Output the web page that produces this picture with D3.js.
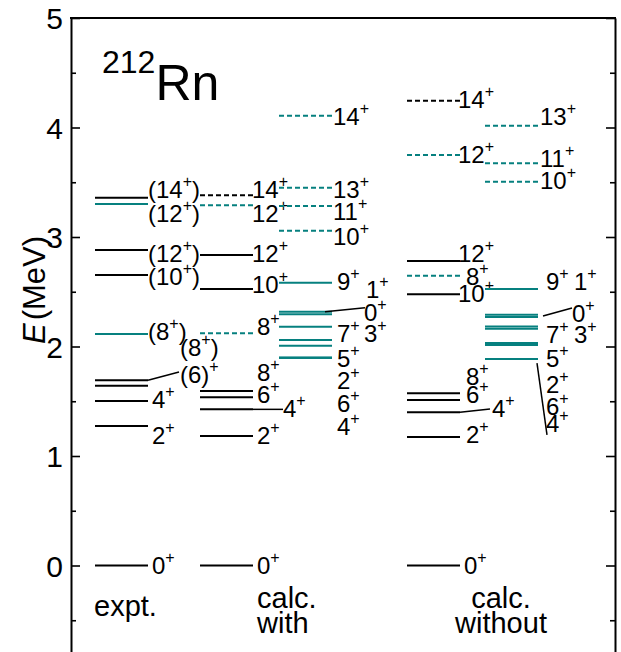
<!DOCTYPE html>
<html>
<head>
<meta charset="utf-8">
<script src="https://cdn.jsdelivr.net/npm/d3@7"></script>
<style>
  html, body { margin: 0; padding: 0; background: #fff; }
  svg { display: block; font-family: "Liberation Sans", Arial, Helvetica, sans-serif; }
</style>
</head>
<body>
<svg id="chart" width="621" height="652"></svg>
<script>
// ---- Level energies (MeV) and spins of 212Rn ----
// set "A": drawn black, set "B": drawn teal; firm=false: dashed level
const columnTitles = ["expt.", "calc. with", "calc. without"];

const exptLevels = [
  { E: 0.000, J: "0+",    set: "A", firm: true },
  { E: 1.274, J: "2+",    set: "A", firm: true },
  { E: 1.502, J: "4+",    set: "A", firm: true },
  { E: 1.642, J: "(6)+",  set: "A", firm: true },
  { E: 1.691, J: "(8+)",  set: "A", firm: true },
  { E: 2.114, J: "(8+)",  set: "B", firm: true },
  { E: 2.653, J: "(10+)", set: "A", firm: true },
  { E: 2.881, J: "(12+)", set: "A", firm: true },
  { E: 3.301, J: "(12+)", set: "B", firm: true },
  { E: 3.359, J: "(14+)", set: "A", firm: true }
];

const withLevelsA = [
  { E: 0.000, J: "0+",  set: "A", firm: true },
  { E: 1.183, J: "2+",  set: "A", firm: true },
  { E: 1.426, J: "4+",  set: "A", firm: true },
  { E: 1.536, J: "6+",  set: "A", firm: true },
  { E: 1.594, J: "8+",  set: "A", firm: true },
  { E: 2.120, J: "8+",  set: "B", firm: false },
  { E: 2.525, J: "10+", set: "A", firm: true },
  { E: 2.836, J: "12+", set: "A", firm: true },
  { E: 3.290, J: "12+", set: "B", firm: false },
  { E: 3.382, J: "14+", set: "A", firm: false }
];

const withLevelsB = [
  { E: 4.108, J: "14+", set: "B", firm: false },
  { E: 3.450, J: "13+", set: "B", firm: false },
  { E: 3.283, J: "11+", set: "B", firm: false },
  { E: 3.058, J: "10+", set: "B", firm: false },
  { E: 2.583, J: "9+",  set: "B", firm: true },
  { E: 2.318, J: "1+",  set: "B", firm: true },
  { E: 2.295, J: "0+",  set: "B", firm: true },
  { E: 2.181, J: "7+",  set: "B", firm: true },
  { E: 2.060, J: "3+",  set: "B", firm: true },
  { E: 2.007, J: "2+",  set: "B", firm: true },
  { E: 1.898, J: "5+",  set: "B", firm: true },
  { E: 1.898, J: "6+",  set: "B", firm: true },
  { E: 1.898, J: "4+",  set: "B", firm: true }
];

const withoutLevelsA = [
  { E: 0.000, J: "0+",  set: "A", firm: true },
  { E: 1.174, J: "2+",  set: "A", firm: true },
  { E: 1.399, J: "4+",  set: "A", firm: true },
  { E: 1.511, J: "6+",  set: "A", firm: true },
  { E: 1.573, J: "8+",  set: "A", firm: true },
  { E: 2.477, J: "10+", set: "A", firm: true },
  { E: 2.647, J: "8+",  set: "B", firm: false },
  { E: 2.781, J: "12+", set: "A", firm: true },
  { E: 3.749, J: "12+", set: "B", firm: false },
  { E: 4.245, J: "14+", set: "A", firm: false }
];

const withoutLevelsB = [
  { E: 4.016, J: "13+", set: "B", firm: false },
  { E: 3.673, J: "11+", set: "B", firm: false },
  { E: 3.505, J: "10+", set: "B", firm: false },
  { E: 2.525, J: "9+",  set: "B", firm: true },
  { E: 2.289, J: "1+",  set: "B", firm: true },
  { E: 2.269, J: "0+",  set: "B", firm: true },
  { E: 2.183, J: "7+",  set: "B", firm: true },
  { E: 2.162, J: "3+",  set: "B", firm: true },
  { E: 2.031, J: "2+",  set: "B", firm: true },
  { E: 2.014, J: "6+",  set: "B", firm: true },
  { E: 1.886, J: "5+",  set: "B", firm: true },
  { E: 1.886, J: "4+",  set: "B", firm: true }
];

const majorTicks = [0, 1, 2, 3, 4, 5];
const minorTicks = [-0.5, 0.5, 1.5, 2.5, 3.5, 4.5];

// ---- Label placement: [x offset past the level end (px), label height (MeV)] ----
const labelPlacement = {
  expt:     [[4, 0], [4, 1.183], [4, 1.511], [32, 1.740], [32, 1.986], [0, 2.132],
             [0, 2.635], [0, 2.845], [0, 3.210], [0, 3.429]],
  withA:    [[4, 0], [4, 1.183], [30, 1.429], [4, 1.557], [4, 1.758], [4, 2.174],
             [-1, 2.562], [-1, 2.845], [-1, 3.210], [-1, 3.429]],
  withB:    [[1, 4.096], [1, 3.429], [1, 3.228], [1, 3.000], [5, 2.589], [34, 2.516],
             [32, 2.306], [5, 2.114], [32, 2.114], [5, 1.685], [5, 1.886], [5, 1.475], [5, 1.265]],
  withoutA: [[4, 0], [6, 1.192], [32, 1.429], [6, 1.557], [6, 1.721], [-2, 2.479],
             [6, 2.635], [-2, 2.845], [-2, 3.749], [-2, 4.251]],
  withoutB: [[2, 4.096], [2, 3.712], [2, 3.511], [8, 2.589], [36, 2.589], [34, 2.297],
             [8, 2.105], [36, 2.105], [8, 1.648], [8, 1.447], [8, 1.886], [8, 1.292]]
};

// Leader lines from a level to its displaced label
const leaders = [
  { slot: "expt",     E0: 1.691, dx0: 0,  dx1: 31, E1: 1.767 },
  { slot: "withA",    E0: 1.426, dx0: 0,  dx1: 30, E1: 1.426 },
  { slot: "withB",    E0: 2.318, dx0: -7, dx1: 33, E1: 2.354 },
  { slot: "withoutA", E0: 1.399, dx0: 0,  dx1: 30, E1: 1.429 },
  { slot: "withoutB", E0: 2.279, dx0: 5,  dx1: 34, E1: 2.352 },
  { slot: "withoutB", E0: 1.849, dx0: -1, dx1: 9,  E1: 1.192 }
];

// ---- Layout ----
const plotLeft = 71, plotRight = 615, plotTop = 18;
const teal = "#06807f";
const svg = d3.select("#chart");

const y = d3.scaleLinear().domain([-1, 5]).range([675, plotTop]);
const slots = ["expt", "withA", "withB", "withoutA", "withoutB"];
const slotX = d3.scaleOrdinal().domain(slots).range([95, 200, 279, 407, 485]);
const slotW = 53;
const levelsBySlot = {
  expt: exptLevels, withA: withLevelsA, withB: withLevelsB,
  withoutA: withoutLevelsA, withoutB: withoutLevelsB
};

// Axes: ticks point into the frame on both sides
const axisL = d3.axisLeft(y).tickValues(majorTicks).tickSizeInner(-9).tickSizeOuter(0)
  .tickPadding(8).tickFormat(d3.format("d"));
const gL = svg.append("g").attr("transform", `translate(${plotLeft},0)`).call(axisL);
gL.select(".domain").attr("stroke-width", 2);
gL.selectAll(".tick line").attr("stroke-width", 1.6);
gL.selectAll(".tick text").attr("font-size", 30).attr("font-family", "Liberation Sans, Arial, sans-serif")
  .attr("fill", "#000").attr("dy", "0.36em");

const minorL = d3.axisLeft(y).tickValues(minorTicks).tickSizeInner(-5).tickSizeOuter(0).tickFormat("");
const gLm = svg.append("g").attr("transform", `translate(${plotLeft},0)`).call(minorL);
gLm.select(".domain").remove();
gLm.selectAll(".tick line").attr("stroke-width", 1.6);

const axisR = d3.axisRight(y).tickValues(majorTicks).tickSizeInner(-9).tickSizeOuter(0).tickFormat("");
const gR = svg.append("g").attr("transform", `translate(${plotRight},0)`).call(axisR);
gR.select(".domain").attr("stroke-width", 2);
gR.selectAll(".tick line").attr("stroke-width", 1.6);
const minorR = d3.axisRight(y).tickValues(minorTicks).tickSizeInner(-5).tickSizeOuter(0).tickFormat("");
const gRm = svg.append("g").attr("transform", `translate(${plotRight},0)`).call(minorR);
gRm.select(".domain").remove();
gRm.selectAll(".tick line").attr("stroke-width", 1.6);

// Top border
svg.append("line").attr("x1", plotLeft - 1).attr("x2", plotRight + 1)
  .attr("y1", y(5)).attr("y2", y(5)).attr("stroke", "#000").attr("stroke-width", 2);

// Axis title
const yt = svg.append("text").attr("transform", "translate(45,290) rotate(-90)")
  .attr("text-anchor", "middle").attr("font-size", 31).attr("fill", "#000");
yt.append("tspan").attr("font-style", "italic").text("E");
yt.append("tspan").attr("dx", 3).text("(MeV)");

// Nucleus label
const nuc = svg.append("text").attr("x", 102).attr("y", 100).attr("fill", "#000");
nuc.append("tspan").attr("font-size", 32).attr("dy", -27).text("212");
nuc.append("tspan").attr("font-size", 50).attr("dy", 27).text("Rn");

// Spin label with superscript parity sign
function spinLabel(g, x, yy, J) {
  const t = g.append("text").attr("x", x).attr("y", yy).attr("font-size", 24).attr("fill", "#000");
  const parts = J.split("+");
  t.append("tspan").text(parts[0]);
  t.append("tspan").attr("font-size", 16).attr("dy", -11).text("+");
  if (parts[1]) t.append("tspan").attr("dy", 11).text(parts[1]);
}

// Levels and labels
slots.forEach(slot => {
  const data = levelsBySlot[slot];
  const x0 = slotX(slot);
  const g = svg.append("g");
  g.selectAll("line.level").data(data).join("line")
    .attr("class", "level")
    .attr("x1", x0).attr("x2", x0 + slotW)
    .attr("y1", d => y(d.E)).attr("y2", d => y(d.E))
    .attr("stroke", d => d.set === "A" ? "#000" : teal)
    .attr("stroke-width", 2)
    .attr("stroke-dasharray", d => d.firm ? null : "5,3");
  data.forEach((d, i) => {
    const [dx, El] = labelPlacement[slot][i];
    spinLabel(g, x0 + slotW + dx, y(El) + 8, d.J);
  });
});

// Leader lines
svg.append("g").selectAll("line").data(leaders).join("line")
  .attr("x1", d => slotX(d.slot) + slotW + d.dx0).attr("y1", d => y(d.E0))
  .attr("x2", d => slotX(d.slot) + slotW + d.dx1).attr("y2", d => y(d.E1))
  .attr("stroke", "#000").attr("stroke-width", 1.5);

// Column titles
const titleFont = 29;
svg.append("text").attr("x", 94).attr("y", 616).attr("font-size", titleFont).text(columnTitles[0]);
const t1 = columnTitles[1].split(" "), t2 = columnTitles[2].split(" ");
svg.append("text").attr("x", 257).attr("y", 608).attr("font-size", titleFont).text(t1[0]);
svg.append("text").attr("x", 257).attr("y", 633).attr("font-size", titleFont).text(t1[1]);
svg.append("text").attr("x", 501).attr("y", 608).attr("text-anchor", "middle").attr("font-size", titleFont).text(t2[0]);
svg.append("text").attr("x", 501).attr("y", 633).attr("text-anchor", "middle").attr("font-size", titleFont).text(t2[1]);
</script>
</body>
</html>
